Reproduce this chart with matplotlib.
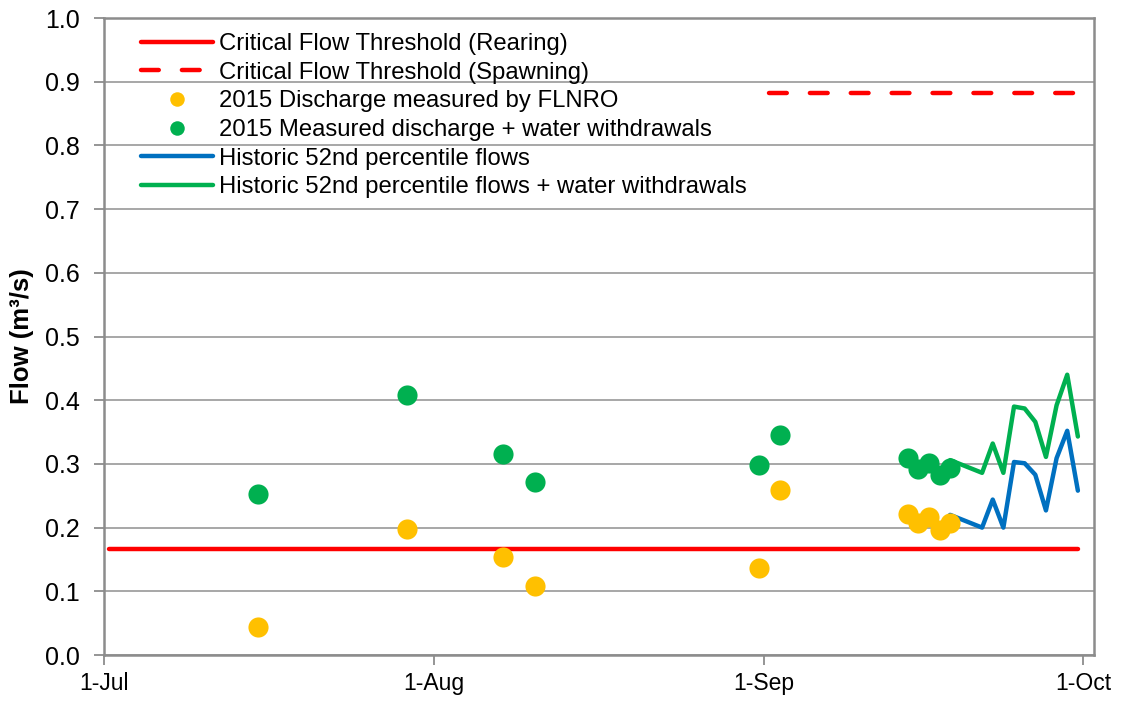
import matplotlib
matplotlib.use("Agg")
import matplotlib.pyplot as plt
import pandas as pd

plt.rcParams['font.family'] = ['Liberation Sans', 'DejaVu Sans']

# 2015 field measurements
meas_dates = ['2015-07-15', '2015-07-29', '2015-08-07', '2015-08-10', '2015-08-31',
              '2015-09-02', '2015-09-14', '2015-09-15', '2015-09-16', '2015-09-17',
              '2015-09-18']
discharge = [0.044, 0.198, 0.154, 0.109, 0.136, 0.259, 0.222, 0.207, 0.216, 0.196, 0.207]
discharge_ww = [0.253, 0.408, 0.316, 0.271, 0.298, 0.345, 0.309, 0.292, 0.302, 0.282, 0.293]

# historic 52nd percentile flows
hist_dates = ['2015-09-14', '2015-09-15', '2015-09-16', '2015-09-17', '2015-09-18',
              '2015-09-21', '2015-09-22', '2015-09-23', '2015-09-24', '2015-09-25',
              '2015-09-26', '2015-09-27', '2015-09-28', '2015-09-29', '2015-09-30']
hist_flow = [0.220, 0.210, 0.215, 0.200, 0.220, 0.200, 0.244, 0.200, 0.303, 0.301,
             0.283, 0.227, 0.309, 0.352, 0.258]
hist_flow_ww = [0.306, 0.296, 0.301, 0.286, 0.306, 0.286, 0.332, 0.286, 0.390, 0.387,
                0.366, 0.311, 0.392, 0.440, 0.343]

rearing_dates = ['2015-07-01', '2015-09-30']
rearing = [0.166, 0.166]
spawning_dates = ['2015-09-01', '2015-09-30']
spawning = [0.883, 0.883]

tick_dates = ['2015-07-01', '2015-08-01', '2015-09-01', '2015-10-01']
tick_labels = ['1-Jul', '1-Aug', '1-Sep', '1-Oct']

half = pd.Timedelta(hours=12)  # excel plots each day in the middle of its slot
def days(d):
    return pd.to_datetime(d) + half

fig = plt.figure(figsize=(11.3, 7.04), dpi=100)
ax = fig.add_axes([0.092, 0.0696, 0.876, 0.9048])

ax.plot(days(rearing_dates), rearing, color='#FF0000', lw=3.2, solid_capstyle='round',
        label='Critical Flow Threshold (Rearing)', zorder=3)
ax.plot(days(spawning_dates), spawning, color='#FF0000', lw=3.2, dashes=(4, 5.2),
        dash_capstyle='round', label='Critical Flow Threshold (Spawning)', zorder=3)
ax.plot(days(meas_dates), discharge, 'o', color='#FFC000', ms=14.5, mec='none',
        label='2015 Discharge measured by FLNRO', zorder=5)
ax.plot(days(meas_dates), discharge_ww, 'o', color='#00B050', ms=14.5, mec='none',
        label='2015 Measured discharge + water withdrawals', zorder=5)
ax.plot(days(hist_dates), hist_flow, color='#0070C0', lw=3.2, solid_capstyle='round',
        label='Historic 52nd percentile flows', zorder=4)
ax.plot(days(hist_dates), hist_flow_ww, color='#00B050', lw=3.2, solid_capstyle='round',
        label='Historic 52nd percentile flows + water withdrawals', zorder=4)

ax.set_xlim(pd.Timestamp('2015-07-01'), pd.Timestamp('2015-10-02'))
ax.set_ylim(0, 1.0)
ax.set_xticks(pd.to_datetime(tick_dates))
ax.set_xticklabels(tick_labels)
ax.set_yticks([i / 10 for i in range(11)])
ax.yaxis.set_major_formatter(plt.FormatStrFormatter('%.1f'))

ax.grid(axis='y', color='#A0A0A0', lw=1.3)
ax.set_axisbelow(True)
for s in ax.spines.values():
    s.set_color('#8C8C8C')
    s.set_linewidth(1.8)
ax.tick_params(axis='both', direction='out', length=7, width=1.3, color='#8C8C8C')
ax.tick_params(axis='x', labelsize=16.5, pad=5)
ax.tick_params(axis='y', labelsize=18, pad=10.5)
ax.set_ylabel('Flow (m³/s)', fontsize=18.5, fontweight='bold', labelpad=8)

leg = ax.legend(loc='upper left', bbox_to_anchor=(0.0374, 0.9765), frameon=False,
                fontsize=17.2, handlelength=3.0, handletextpad=0.27, labelspacing=0.28,
                markerscale=0.72, borderpad=0, borderaxespad=0)

fig.savefig('out.png', dpi=100)
